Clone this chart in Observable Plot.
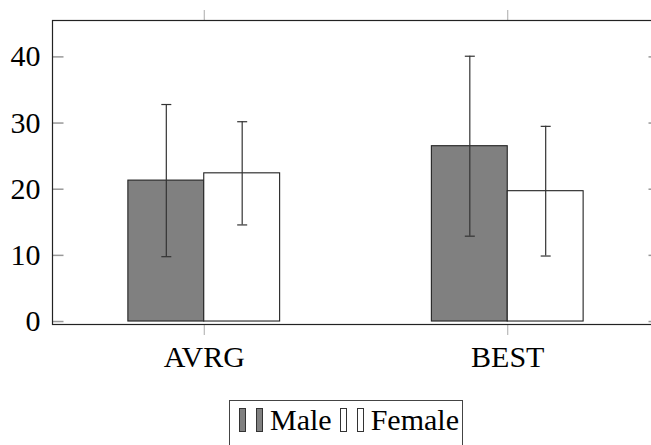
<!DOCTYPE html>
<html>
<head>
<meta charset="utf-8">
<script src="https://cdn.jsdelivr.net/npm/d3@7"></script>
<script src="https://cdn.jsdelivr.net/npm/@observablehq/plot@0.6"></script>
<style>
  html, body { margin: 0; padding: 0; background: white; overflow: hidden; }
  #chart { width: 651px; }
  .legend-wrap { position: relative; height: 60px; width: 651px; }
  .legend-box { position: absolute; left: 229px; top: 10px; border: 1px solid #444; border-bottom: none;
    height: 60px; display: flex; align-items: flex-start; padding: 6px 3px 0 9px; box-sizing: border-box;
    font-family: "Liberation Serif", "Tinos", "Times New Roman", "DejaVu Serif", serif; font-size: 30px; color: black; }
  .sw { width: 5px; height: 22px; border: 1px solid #333; margin-top: 1px; }
  .lab { line-height: 30px; margin-top: -2px; }
</style>
</head>
<body>
<div id="chart"></div>
<div class="legend-wrap"><div class="legend-box" id="legend"></div></div>
<script>
// ---- data ----
const categories = ["AVRG", "BEST"];
const series = ["Male", "Female"];
const maleMean = [21.3, 26.5];
const maleErr = [11.5, 13.6];
const femaleMean = [22.4, 19.7];
const femaleErr = [7.8, 9.8];
const yTicks = [0, 10, 20, 30, 40];

// ---- styles ----
const fills = {Male: "#808080", Female: "#ffffff"};
const barWidth = 0.25; // in category units
const serifStack = "'Liberation Serif', 'Tinos', 'Times New Roman', 'DejaVu Serif', serif";

const means = {Male: maleMean, Female: femaleMean};
const errs = {Male: maleErr, Female: femaleErr};
const rows = [];
categories.forEach((c, i) => {
  series.forEach((s, k) => {
    const x1 = i + (k - series.length / 2) * barWidth;
    rows.push({cat: c, series: s, x1, x2: x1 + barWidth, xc: x1 + barWidth / 2,
      mean: means[s][i], lo: means[s][i] - errs[s][i], hi: means[s][i] + errs[s][i]});
  });
});

const hline = {draw(ctx, size) { const w = Math.sqrt(size / Math.PI); ctx.moveTo(-w, 0); ctx.lineTo(w, 0); }};

const plot = Plot.plot({
  width: 651,
  height: 390,
  marginLeft: 52,
  marginRight: -8,
  marginTop: 20,
  marginBottom: 66,
  style: {fontFamily: serifStack, background: "white", overflow: "hidden"},
  x: {type: "linear", domain: [-0.5, categories.length - 0.5], label: null},
  y: {domain: [-0.45, 45.5], label: null},
  marks: [
    Plot.rectY(rows, {x1: "x1", x2: "x2", y1: 0, y2: "mean", fill: d => fills[d.series], stroke: "#222", strokeWidth: 1.1}),
    Plot.ruleX(rows, {x: "xc", y1: "lo", y2: "hi", stroke: "#333", strokeWidth: 1.2}),
    Plot.dot(rows, {x: "xc", y: "lo", symbol: hline, r: 5, stroke: "#333", strokeWidth: 1.2}),
    Plot.dot(rows, {x: "xc", y: "hi", symbol: hline, r: 5, stroke: "#333", strokeWidth: 1.2}),
    Plot.dot(yTicks, {y: d => d, frameAnchor: "left", dx: 5.5, symbol: hline, r: 5.5, stroke: "#999"}),
    Plot.dot(yTicks, {y: d => d, frameAnchor: "right", dx: -5.5, symbol: hline, r: 5.5, stroke: "#999"}),
    Plot.axisY({ticks: yTicks, tickSize: 0, tickPadding: 12, fontSize: 30, fill: "black", fontFamily: serifStack}),
    Plot.axisX({ticks: d3.range(categories.length), tickFormat: i => categories[i], tickSize: 11, tickPadding: 10,
      fontSize: 30, stroke: "#aaa", fill: "black", fontFamily: serifStack}),
    Plot.axisX({anchor: "top", ticks: d3.range(categories.length), tickFormat: () => "", tickSize: 11, stroke: "#aaa"}),
    Plot.frame({stroke: "#222", strokeWidth: 1.2})
  ]
});
document.getElementById("chart").appendChild(plot);

// ---- legend ----
const leg = document.getElementById("legend");
series.forEach((s, k) => {
  for (let j = 0; j < 2; j++) {
    const sw = document.createElement("div");
    sw.className = "sw";
    sw.style.background = fills[s];
    sw.style.marginRight = j === 0 ? "10px" : "7px";
    leg.appendChild(sw);
  }
  const t = document.createElement("span");
  t.className = "lab";
  t.textContent = s;
  t.style.marginRight = k < series.length - 1 ? "8px" : "0";
  leg.appendChild(t);
});
</script>
</body>
</html>
